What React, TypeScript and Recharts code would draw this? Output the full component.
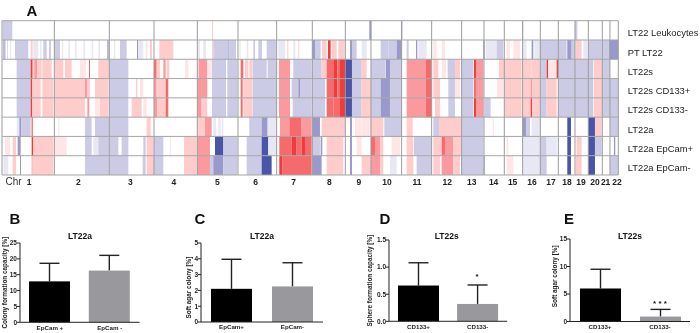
import React from "react";
import {
  ComposedChart, Bar, XAxis, YAxis, ReferenceArea, ReferenceLine,
} from "recharts";

const FONT = "'Liberation Sans', Arial, sans-serif";

const rowNames = ["LT22 Leukocytes", "PT LT22", "LT22s", "LT22s CD133+", "LT22s CD133-", "LT22a", "LT22a EpCam+", "LT22a EpCam-"];
const chrNames = ["1","2","3","4","5","6","7","8","9","10","11","12","13","14","15","16","17","18","19","20","21","22"];
const chrCentres = [87,235,391,522,652,767,881,988,1077,1161,1251,1342,1415,1481,1538,1596,1653,1701,1743,1785,1817,1851];
const chrBounds = [6,163,328,462,592,714,830,937,1036,1113,1205,1295,1385,1452,1513,1568,1621,1675,1725,1765,1807,1830,1855];

const levelColours: Record<string, string> = {
  a: "#E8E8F5", b: "#CBCBE6", c: "#9999CC", d: "#4A55A8",
  p: "#FFE6E6", q: "#FFCCCC", r: "#FB9A9E", t: "#F56B6B", s: "#EE3B3B",
};

type Seg = [number, number, string];
const HALF = 1020;

const leftHalf: Seg[][] = [
  [[8,37,"b"],[636,639,"q"]],
  [[10,14,"c"],[16,18,"b"],[22,24,"b"],[30,34,"a"],[45,85,"b"],[92,98,"q"],[100,115,"a"],[120,125,"a"],[130,140,"b"],[147,153,"b"],[163,180,"b"],[186,190,"a"],[205,210,"a"],[225,230,"a"],[250,255,"a"],[275,280,"a"],[295,300,"a"],[322,326,"c"],[342,346,"a"],[360,380,"b"],[411,414,"c"],[414,430,"a"],[437,442,"p"],[450,456,"q"],[478,495,"q"],[495,520,"q"],[594,600,"a"],[610,618,"a"],[636,640,"q"],[640,684,"b"],[685,688,"c"],[688,708,"b"],[718,722,"a"],[740,745,"a"],[760,765,"b"],[775,786,"b"],[800,828,"b"],[835,855,"a"],[862,865,"q"],[880,886,"a"],[895,898,"q"],[937,945,"c"],[945,962,"b"],[966,980,"q"],[984,992,"s"],[995,1010,"q"],[1015,1022,"q"],[1025,1032,"q"]],
  [[50,92,"b"],[92,98,"s"],[98,103,"q"],[103,112,"r"],[112,125,"q"],[127,155,"q"],[165,190,"q"],[195,215,"q"],[240,258,"p"],[267,270,"t"],[295,327,"q"],[328,385,"b"],[462,470,"t"],[470,480,"q"],[490,497,"r"],[500,508,"q"],[555,565,"p"],[592,597,"q"],[597,622,"r"],[622,636,"p"],[636,678,"b"],[682,712,"b"],[722,730,"t"],[735,745,"q"],[748,757,"q"],[758,800,"b"],[803,830,"b"],[837,870,"r"],[880,935,"b"],[937,965,"b"],[965,980,"q"],[980,1000,"t"],[1000,1012,"s"],[1012,1022,"t"],[1022,1035,"s"]],
  [[50,92,"b"],[92,97,"s"],[97,122,"q"],[127,160,"q"],[165,255,"q"],[255,262,"r"],[262,270,"q"],[285,325,"q"],[328,385,"b"],[408,412,"q"],[420,430,"p"],[462,470,"r"],[470,497,"q"],[497,505,"t"],[592,622,"r"],[636,678,"b"],[682,712,"b"],[722,728,"t"],[730,757,"q"],[758,830,"b"],[837,870,"r"],[875,895,"b"],[895,900,"c"],[900,935,"b"],[937,975,"b"],[980,1000,"t"],[1000,1012,"s"],[1012,1022,"t"],[1022,1035,"s"]],
  [[50,92,"b"],[92,97,"s"],[97,122,"q"],[127,160,"q"],[165,255,"q"],[262,268,"r"],[285,300,"p"],[300,325,"q"],[328,385,"b"],[395,425,"q"],[430,440,"p"],[462,472,"r"],[472,497,"q"],[497,505,"t"],[592,605,"r"],[605,622,"q"],[636,678,"b"],[682,712,"b"],[722,728,"t"],[730,757,"q"],[758,830,"b"],[837,870,"r"],[878,935,"b"],[937,975,"b"],[980,1000,"t"],[1000,1022,"t"],[1022,1035,"s"]],
  [[50,57,"a"],[58,64,"c"],[64,92,"b"],[95,98,"s"],[175,178,"a"],[255,275,"b"],[285,327,"b"],[328,385,"b"],[440,452,"q"],[592,615,"q"],[615,635,"r"],[640,648,"a"],[655,662,"a"],[665,670,"a"],[748,785,"b"],[785,803,"c"],[803,830,"a"],[840,868,"r"],[868,905,"t"],[905,935,"r"],[937,960,"c"],[965,1030,"q"]],
  [[15,30,"p"],[38,48,"q"],[53,62,"c"],[95,100,"s"],[100,160,"q"],[165,200,"p"],[255,275,"b"],[280,295,"a"],[295,327,"b"],[330,355,"b"],[365,385,"b"],[430,437,"b"],[440,460,"q"],[462,490,"b"],[510,513,"p"],[552,590,"q"],[592,630,"r"],[645,670,"d"],[672,712,"b"],[740,785,"b"],[785,805,"d"],[805,830,"a"],[838,875,"t"],[875,890,"s"],[890,905,"t"],[905,915,"s"],[915,935,"t"],[937,960,"b"],[962,967,"c"],[980,1020,"q"]],
  [[10,25,"a"],[38,48,"q"],[60,63,"c"],[95,98,"r"],[98,160,"q"],[255,285,"b"],[285,327,"b"],[330,385,"b"],[428,437,"b"],[440,462,"q"],[462,490,"b"],[552,590,"q"],[592,630,"r"],[630,640,"b"],[640,670,"c"],[670,712,"b"],[740,785,"b"],[785,815,"d"],[838,848,"s"],[848,935,"t"],[937,965,"c"],[980,1020,"q"]],
];

const rightHalf: Seg[][] = [
  [[88,94,"c"],[183,187,"c"],[546,550,"b"],[705,712,"b"]],
  [[0,14,"q"],[30,36,"c"],[36,50,"b"],[65,80,"a"],[122,145,"b"],[145,170,"b"],[170,185,"c"],[200,206,"b"],[228,232,"c"],[235,260,"a"],[280,290,"p"],[305,315,"p"],[430,434,"c"],[437,470,"a"],[470,490,"b"],[500,510,"p"],[520,540,"p"],[548,560,"a"],[575,580,"c"],[583,600,"a"],[600,655,"b"],[655,680,"b"],[682,695,"c"],[695,705,"b"],[707,725,"q"],[730,742,"a"],[745,762,"b"],[762,785,"b"],[785,808,"b"],[808,835,"c"]],
  [[0,15,"s"],[15,36,"d"],[36,65,"b"],[65,80,"q"],[93,135,"b"],[137,150,"c"],[150,185,"b"],[200,258,"r"],[258,273,"t"],[280,295,"q"],[305,318,"p"],[323,345,"b"],[345,360,"q"],[365,400,"b"],[402,408,"s"],[408,430,"r"],[477,493,"q"],[493,545,"q"],[548,575,"q"],[575,600,"q"],[602,620,"b"],[620,625,"s"],[625,650,"p"],[650,655,"s"],[655,705,"b"],[705,760,"b"],[762,787,"q"],[787,810,"b"]],
  [[0,15,"s"],[15,36,"d"],[36,65,"b"],[65,93,"q"],[93,122,"b"],[122,150,"c"],[150,185,"b"],[200,258,"r"],[258,275,"t"],[280,300,"q"],[325,345,"b"],[345,360,"p"],[365,400,"b"],[402,408,"t"],[408,430,"r"],[470,490,"p"],[493,545,"q"],[548,572,"q"],[572,576,"r"],[576,600,"q"],[602,620,"b"],[620,650,"q"],[655,705,"b"],[705,760,"b"],[762,787,"q"],[787,835,"b"]],
  [[0,15,"s"],[15,36,"d"],[36,65,"b"],[65,93,"q"],[93,122,"b"],[122,150,"c"],[150,185,"b"],[200,258,"r"],[258,275,"t"],[285,300,"q"],[325,345,"b"],[365,400,"b"],[402,408,"s"],[408,430,"r"],[435,452,"b"],[493,545,"q"],[548,572,"q"],[572,576,"s"],[576,600,"q"],[602,620,"b"],[620,650,"q"],[655,705,"b"],[705,760,"b"],[762,787,"q"],[787,835,"b"]],
  [[0,15,"q"],[30,36,"c"],[45,65,"p"],[65,93,"p"],[93,130,"q"],[133,185,"b"],[200,218,"q"],[280,297,"b"],[297,365,"q"],[365,430,"b"],[458,462,"p"],[548,558,"c"],[558,570,"b"],[575,600,"a"],[682,693,"d"],[745,765,"d"],[765,785,"q"],[810,835,"b"]],
  [[0,10,"q"],[30,36,"c"],[50,65,"p"],[93,105,"t"],[105,120,"r"],[120,130,"q"],[155,180,"p"],[200,220,"q"],[222,275,"b"],[280,297,"q"],[297,305,"q"],[305,315,"t"],[315,340,"r"],[340,363,"q"],[365,430,"b"],[500,505,"p"],[548,600,"a"],[602,620,"b"],[620,650,"a"],[682,693,"d"],[710,725,"q"],[745,765,"d"],[765,785,"b"],[822,826,"c"]],
  [[0,10,"q"],[30,36,"c"],[65,93,"q"],[93,120,"r"],[120,130,"q"],[150,170,"a"],[200,220,"q"],[230,275,"b"],[280,300,"q"],[305,340,"r"],[340,360,"q"],[365,430,"b"],[431,434,"c"],[500,520,"p"],[548,600,"a"],[600,620,"b"],[682,693,"d"],[707,725,"q"],[745,765,"d"],[810,835,"b"]],
];

const rowIndex = rowNames.map((_, i) => i);

const RowTick = (props: any) => (
  <text x={627.7} y={props.y + 2.5} dominantBaseline="central" fontSize={9.4} fill="#222" fontFamily={FONT}>
    {rowNames[Math.floor(props.payload.value)]}
  </text>
);

function Heatmap() {
  return (
    <div style={{ position: "absolute", left: 0, top: 0 }}>
      <ComposedChart width={700} height={195} margin={{ top: 20.7, right: 0, bottom: 0, left: 2 }} data={[{ x: 6, y: 0 }, { x: 1855, y: 8 }]}>
        <XAxis
          dataKey="x" type="number" domain={[6, 1855]} allowDataOverflow ticks={chrCentres} interval={0} height={20}
          axisLine={false} tickLine={false} tickMargin={0} dy={-2.5}
          tickFormatter={(v: number) => chrNames[chrCentres.indexOf(v)]}
          tick={{ fontSize: 8.5, fontWeight: 700, fill: "#222", fontFamily: FONT }}
        />
        <YAxis
          dataKey="y" type="number" orientation="right" domain={[0, 8]} allowDataOverflow reversed width={81.7}
          ticks={rowIndex.map((i) => i + 0.5)} interval={0} axisLine={false} tickLine={false}
          tick={RowTick}
        />
        {leftHalf.map((row, r) => row.map(([a, b, l], k) => (
          <ReferenceArea key={`l${r}-${k}`} x1={a} x2={b} y1={r} y2={r + 1} fill={levelColours[l]} fillOpacity={1} stroke="none" ifOverflow="hidden" />
        )))}
        {rightHalf.map((row, r) => row.map(([a, b, l], k) => (
          <ReferenceArea key={`r${r}-${k}`} x1={a + HALF} x2={b + HALF} y1={r} y2={r + 1} fill={levelColours[l]} fillOpacity={1} stroke="none" ifOverflow="hidden" />
        )))}
        {chrBounds.map((b) => <ReferenceLine key={`c${b}`} x={b} stroke="#9C9C9C" strokeWidth={1} />)}
        {[0,1,2,3,4,5,6,7,8].map((y) => <ReferenceLine key={`y${y}`} y={y} stroke="#A6A6A6" strokeWidth={1} />)}
      </ComposedChart>
    </div>
  );
}

const panelB = { cats: ["EpCam +", "EpCam -"], vals: [12.9, 16.3], errs: [5.7, 4.8], ticks: [0, 5, 10, 15, 20, 25] };
const panelC = { cats: ["EpCam+", "EpCam-"], vals: [2.1, 2.25], errs: [1.87, 1.5], ticks: [0, 1, 2, 3, 4, 5] };
const panelD = { cats: ["CD133+", "CD133-"], vals: [0.66, 0.32], errs: [0.42, 0.35], ticks: [0, 0.5, 1, 1.5] };
const panelE = { cats: ["CD133+", "CD133-"], vals: [6.0, 0.9], errs: [3.5, 1.3], ticks: [0, 5, 10, 15] };

const barFills = ["#000000", "#99989C"];

type PanelProps = {
  p: { cats: string[]; vals: number[]; errs: number[]; ticks: number[] };
  title: string; yLabel: string; letter: string;
  left: number; right: number; top: number; base: number;
  titleX: number; labelX: number; letterX: number; fmt?: (v: number) => string; labelDy?: number;
};

const text = (x: number, y: number, s: string, size: number, bold = true, colour = "#111"): React.ReactNode => (
  <div style={{ position: "absolute", left: x, top: y, transform: "translate(-50%,-50%)", fontFamily: FONT, fontSize: size, fontWeight: bold ? 700 : 400, color: colour, whiteSpace: "nowrap", lineHeight: 1 }}>{s}</div>
);

// Bar with its upper error whisker, both placed from the geometry the value axis gives the bar.
const BarWithError = (s: any) => {
  const perUnit = s.height / s.value;
  const topY = s.y - s.payload.err * perUnit;
  const cx = s.x + s.width / 2;
  return (
    <g>
      <line x1={cx} x2={cx} y1={s.y} y2={topY} stroke="#222" strokeWidth={1.4} />
      <line x1={cx - 10} x2={cx + 10} y1={topY} y2={topY} stroke="#222" strokeWidth={1.4} />
      <rect x={s.x} y={s.y} width={s.width} height={s.height} fill={barFills[s.index]} />
    </g>
  );
};

function Panel({ p, title, yLabel, letter, left, right, top, base, titleX, labelX, letterX, fmt, labelDy = 0 }: PanelProps) {
  const yw = 22;
  const pad = 16;
  const data = p.cats.map((c, i) => ({ cat: c, val: p.vals[i], err: p.errs[i] }));
  const domainMax = p.ticks[p.ticks.length - 1];
  return (
    <>
      {text(letterX, 217.5, letter, 15)}
      {text(titleX, 235.5, title, 8.5)}
      <div style={{ position: "absolute", left: left - yw, top: top - pad }}>
        <ComposedChart width={right - left + yw + 3} height={base - top + pad + 14} data={data} margin={{ top: pad, right: 3, bottom: 0, left: 0 }} barCategoryGap={0}>
          <XAxis dataKey="cat" height={14} interval={0} stroke="#222" tickSize={0} tickMargin={3} tick={{ fontSize: 6.2, fontWeight: 700, fill: "#222", fontFamily: FONT }} />
          <YAxis
            type="number" domain={[0, domainMax]} ticks={p.ticks} interval={0} width={yw} stroke="#222" tickSize={3} tickMargin={0}
            tickFormatter={fmt}
            tick={{ fontSize: 6.5, fontWeight: 700, fill: "#222", fontFamily: FONT }}
            label={{ value: yLabel, angle: -90, position: "center", dx: labelX - (left - yw / 2), dy: labelDy, style: { fontSize: 6.4, fontWeight: 700, fill: "#222", fontFamily: FONT } }}
          />
          <Bar dataKey="val" barSize={41} isAnimationActive={false} shape={BarWithError} />
        </ComposedChart>
      </div>
    </>
  );
}

export default function App() {
  return (
    <div style={{ position: "absolute", left: 0, top: 0, width: 700, height: 333, overflow: "hidden", background: "#fff", filter: "blur(0.3px)" }}>
      <Heatmap />
      {text(32, 9.5, "A", 15)}
      {text(13.5, 181.5, "Chr", 10, false, "#333")}
      <Panel p={panelB} title="LT22a" yLabel="Colony formation capacity [%]" letter="B" left={20} right={139.6} top={242.7} base={322} titleX={80} labelX={5} letterX={15} />
      <Panel p={panelC} title="LT22a" yLabel="Soft agar colony [%]" letter="C" left={200.7} right={322.7} top={243} base={322} titleX={262} labelX={188} letterX={200} labelDy={5} />
      <Panel p={panelD} title="LT22s" yLabel="Sphere formation capacity [%]" letter="D" left={388.8} right={507} top={240} base={321.3} titleX={446.7} labelX={370} letterX={385} fmt={(v) => v.toFixed(1)} />
      <Panel p={panelE} title="LT22s" yLabel="Soft agar colony [%]" letter="E" left={570} right={690} top={238.5} base={321} titleX={630} labelX={555} letterX={569} labelDy={-4} />
      {text(477, 277, "*", 8)}
      {text(660, 303.5, "* * *", 8)}
    </div>
  );
}
